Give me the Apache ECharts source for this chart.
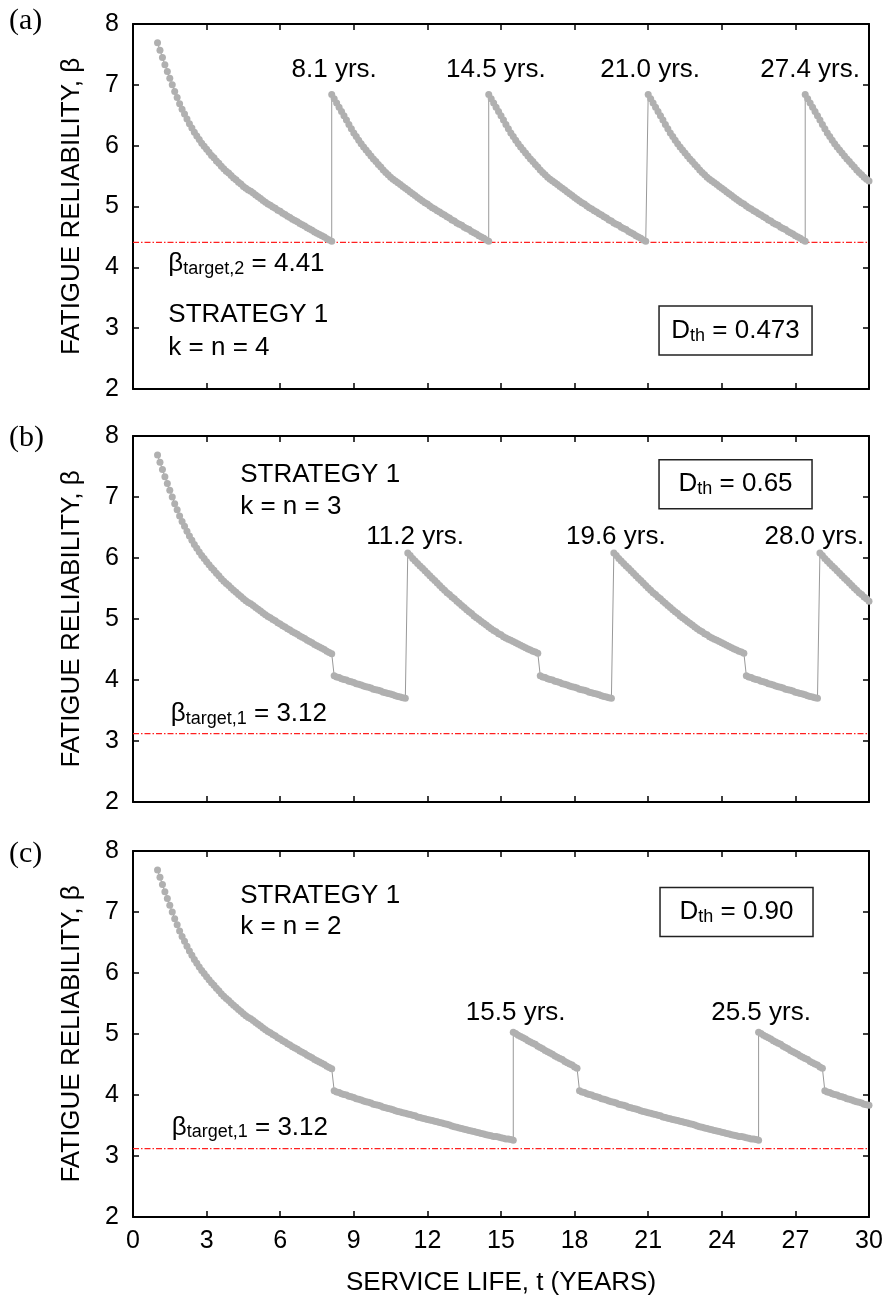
<!DOCTYPE html>
<html><head><meta charset="utf-8">
<script src="https://cdn.jsdelivr.net/npm/echarts@6/dist/echarts.min.js"></script>
<style>html,body{margin:0;padding:0;background:#fff}#c{width:888px;height:1301px}</style>
</head><body><div id="c"></div>
<script>
// ---------------- DATA ----------------
const sampleStep = 0.1; // years between computed reliability points
// initial deterioration, t = 1.0 ... 8.1
const baseDecay = [7.69,7.57,7.45,7.33,7.22,7.11,7.00,6.89,6.79,6.69,
  6.60,6.52,6.44,6.36,6.29,6.22,6.16,6.10,6.04,5.99,
  5.94,5.89,5.84,5.80,5.75,5.71,5.66,5.62,5.58,5.55,
  5.51,5.47,5.44,5.40,5.37,5.33,5.30,5.27,5.25,5.22,
  5.19,5.16,5.13,5.10,5.07,5.04,5.02,4.99,4.97,4.94,
  4.92,4.89,4.87,4.84,4.82,4.79,4.77,4.75,4.72,4.70,
  4.68,4.65,4.63,4.61,4.58,4.56,4.54,4.52,4.50,4.47,
  4.45,4.43];
// after repair, panel (a): 0 ... 6.4 yrs after repair
const repairA = [6.84,6.77,6.70,6.63,6.56,6.49,6.42,6.35,6.28,6.21,
  6.15,6.09,6.03,5.98,5.93,5.88,5.83,5.78,5.74,5.69,
  5.65,5.60,5.56,5.52,5.48,5.45,5.42,5.39,5.36,5.33,
  5.30,5.27,5.24,5.21,5.18,5.15,5.12,5.09,5.06,5.04,
  5.01,4.98,4.96,4.93,4.91,4.88,4.86,4.83,4.81,4.78,
  4.76,4.73,4.71,4.69,4.66,4.64,4.62,4.59,4.57,4.55,
  4.52,4.50,4.48,4.45,4.43];
// after repair, panel (b): 0 ... 5.3 yrs after repair
const repairB = [6.08,6.04,5.99,5.95,5.91,5.87,5.83,5.79,5.75,5.71,
  5.67,5.63,5.59,5.55,5.51,5.47,5.43,5.40,5.36,5.33,
  5.29,5.26,5.22,5.19,5.15,5.12,5.09,5.05,5.02,4.99,
  4.96,4.93,4.90,4.87,4.84,4.81,4.79,4.76,4.74,4.71,
  4.69,4.67,4.65,4.63,4.61,4.59,4.57,4.55,4.53,4.51,
  4.49,4.47,4.46,4.44];
// after repair, panel (c): 0 ... 2.6 yrs after repair
const repairC = [5.03,5.01,4.98,4.96,4.94,4.92,4.89,4.87,4.85,4.83,
  4.80,4.78,4.76,4.73,4.71,4.69,4.67,4.64,4.62,4.60,
  4.58,4.55,4.53,4.51,4.49,4.46,4.44];
// after detection-triggered drop, panel (b): 0 ... 2.9 yrs
const minorB = [4.07,4.05,4.04,4.02,4.01,4.00,3.98,3.97,3.96,3.94,
  3.93,3.92,3.90,3.89,3.88,3.87,3.85,3.84,3.83,3.82,
  3.80,3.79,3.78,3.77,3.76,3.74,3.73,3.72,3.71,3.70];
// after detection-triggered drop, panel (c): 0 ... 7.3 yrs
const minorC = [4.07,4.05,4.04,4.02,4.01,4.00,3.98,3.97,3.96,3.94,
  3.93,3.92,3.90,3.89,3.88,3.87,3.85,3.84,3.83,3.82,
  3.80,3.79,3.78,3.77,3.76,3.74,3.73,3.72,3.71,3.70,
  3.69,3.68,3.67,3.66,3.64,3.63,3.62,3.61,3.60,3.59,
  3.58,3.57,3.56,3.55,3.54,3.53,3.52,3.51,3.49,3.48,
  3.47,3.46,3.45,3.44,3.43,3.42,3.41,3.40,3.39,3.38,
  3.37,3.36,3.35,3.34,3.33,3.32,3.32,3.31,3.30,3.29,
  3.28,3.28,3.27,3.26];
// segment schedules: [start year, segment values, number of points used]
const scheduleA = [[1.0, baseDecay, 72], [8.1, repairA, 65], [14.5, repairA, 65], [21.0, repairA, 65], [27.4, repairA, 27]];
const scheduleB = [[1.0, baseDecay, 72], [8.2, minorB, 30], [11.2, repairB, 54], [16.6, minorB, 30], [19.6, repairB, 54], [25.0, minorB, 30], [28.0, repairB, 21]];
const scheduleC = [[1.0, baseDecay, 72], [8.2, minorC, 74], [15.5, repairC, 27], [18.2, minorC, 74], [25.5, repairC, 27], [28.2, minorC, 19]];
const targets = [4.41, 3.12, 3.12];
const targetSubs = ['target,2', 'target,1', 'target,1'];
const kValues = ['k = n = 4', 'k = n = 3', 'k = n = 2'];
const dthValues = ['0.473', '0.65', '0.90'];
const repairLabelsA = ['8.1 yrs.', '14.5 yrs.', '21.0 yrs.', '27.4 yrs.'];
const repairLabelsB = ['11.2 yrs.', '19.6 yrs.', '28.0 yrs.'];
const repairLabelsC = ['15.5 yrs.', '25.5 yrs.'];
const xTicks = [0, 3, 6, 9, 12, 15, 18, 21, 24, 27, 30];
const yTicks = [2, 3, 4, 5, 6, 7, 8];
const panelTags = ['(a)', '(b)', '(c)'];

// ---------------- LAYOUT ----------------
const FONT = "'Liberation Sans', Arial, sans-serif";
const SERIF = "'Liberation Serif', 'Times New Roman', serif";
const grids = [
  {left: 133, top: 24, width: 736, height: 365},
  {left: 133, top: 436, width: 736, height: 366},
  {left: 133, top: 851, width: 736, height: 366}
];

function buildPanel(schedule) {
  const pts = [];
  schedule.forEach(([t0, vals, n]) => {
    for (let i = 0; i < n; i++) {
      pts.push([Math.round((t0 + i * sampleStep) * 100) / 100, vals[i]]);
    }
  });
  return pts;
}

const xAxes = [], yAxes = [];
grids.forEach((g, i) => {
  const common = {
    type: 'value', gridIndex: i,
    axisLine: {show: true, onZero: false, lineStyle: {color: '#000', width: 2}},
    axisTick: {show: true, inside: true, length: 6, lineStyle: {color: '#000', width: 1.5}},
    splitLine: {show: false}
  };
  xAxes.push(Object.assign({}, common, {
    position: 'bottom', min: xTicks[0], max: xTicks[xTicks.length - 1], interval: xTicks[1] - xTicks[0],
    axisLabel: {show: i === 2, fontSize: 25, color: '#000', fontFamily: FONT, margin: 12},
    name: i === 2 ? 'SERVICE LIFE, t (YEARS)' : '', nameLocation: 'middle', nameGap: 53,
    nameTextStyle: {fontSize: 26, color: '#000', fontFamily: FONT}
  }));
  xAxes.push(Object.assign({}, common, {
    position: 'top', min: xTicks[0], max: xTicks[xTicks.length - 1], interval: xTicks[1] - xTicks[0],
    axisLabel: {show: false}
  }));
  yAxes.push(Object.assign({}, common, {
    position: 'left', min: yTicks[0], max: yTicks[yTicks.length - 1], interval: yTicks[1] - yTicks[0],
    axisLabel: {show: true, fontSize: 25, color: '#000', fontFamily: FONT, margin: 14},
    name: 'FATIGUE RELIABILITY, β', nameLocation: 'middle', nameGap: 48,
    nameTextStyle: {fontSize: 26, color: '#000', fontFamily: FONT}
  }));
  yAxes.push(Object.assign({}, common, {
    position: 'right', min: yTicks[0], max: yTicks[yTicks.length - 1], interval: yTicks[1] - yTicks[0],
    axisLabel: {show: false}
  }));
});

const schedules = [scheduleA, scheduleB, scheduleC];
const series = [];
schedules.forEach((s, i) => {
  // target reliability threshold (dash-dot red)
  series.push({
    type: 'line', xAxisIndex: 2 * i, yAxisIndex: 2 * i,
    data: [[xTicks[0], targets[i]], [xTicks[xTicks.length - 1], targets[i]]],
    symbol: 'none', silent: true, z: 2,
    lineStyle: {color: '#ff2020', width: 1.2, type: [6, 2, 1.5, 2]},
    emphasis: {disabled: true}
  });
  series.push({
    type: 'line', xAxisIndex: 2 * i, yAxisIndex: 2 * i,
    data: buildPanel(s),
    symbol: 'circle', symbolSize: 7, showSymbol: true, showAllSymbol: true,
    itemStyle: {color: '#b0b0b0', borderWidth: 0},
    lineStyle: {color: '#999999', width: 1},
    emphasis: {disabled: true},
    silent: true, z: 3
  });
});

const chart = echarts.init(document.getElementById('c'), null, {renderer: 'canvas'});
chart.setOption({animation: false, backgroundColor: '#fff', grid: grids, xAxis: xAxes, yAxis: yAxes, series: series});

// ---------------- ANNOTATIONS ----------------
const ctx = document.createElement('canvas').getContext('2d');
function tw(s, size) { ctx.font = size + "px 'Liberation Sans'"; return ctx.measureText(s).width; }
function px(i, t, b) { return chart.convertToPixel({seriesIndex: 2 * i + 1}, [t, b]); }
function txt(s, x, y, size, align, family) {
  return {type: 'text', silent: true, z: 10, style: {text: s, x: x, y: y, fontSize: size, fontFamily: family || FONT, fill: '#000',
    textAlign: align || 'left', textVerticalAlign: 'middle', align: align || 'left', verticalAlign: 'middle'}};
}
// composite text with subscript: parts = [main, sub, rest]
function subText(x, y, main, sub, rest, centered) {
  const w1 = tw(main, 26), w2 = tw(sub, 18), w3 = tw(rest, 26);
  let x0 = centered ? x - (w1 + w2 + w3) / 2 : x;
  return [txt(main, x0, y, 26), txt(sub, x0 + w1, y + 5, 18), txt(rest, x0 + w1 + w2, y, 26)];
}
const els = [];
const labelPos = [
  [[repairLabelsA[0], 8.2], [repairLabelsA[1], 14.79], [repairLabelsA[2], 21.08], [repairLabelsA[3], 27.6]],
  [[repairLabelsB[0], 11.5], [repairLabelsB[1], 19.68], [repairLabelsB[2], 27.77]],
  [[repairLabelsC[0], 15.6], [repairLabelsC[1], 25.6]]
];
const labelBeta = [7.24, 6.35, 5.35];
const stratPos = [[1.44, 3.22, 2.68], [4.37, 7.36, 6.84], [4.37, 7.27, 6.76]];
const targetPos = [[1.44, 4.06], [1.54, 3.45], [1.58, 3.47]];
const boxPos = [[24.56, 2.96], [24.56, 7.21], [24.6, 7.0]];
const tagY = [21, 438, 854];

for (let i = 0; i < 3; i++) {
  labelPos[i].forEach(([s, t]) => { const p = px(i, t, labelBeta[i]); els.push(txt(s, p[0], p[1], 26, 'center')); });
  let p = px(i, stratPos[i][0], stratPos[i][1]);
  els.push(txt('STRATEGY 1', p[0], p[1], 26));
  p = px(i, stratPos[i][0], stratPos[i][2]);
  els.push(txt(kValues[i], p[0], p[1], 26));
  p = px(i, targetPos[i][0], targetPos[i][1]);
  subText(p[0], p[1], 'β', targetSubs[i], ' = ' + targets[i].toFixed(2), false).forEach(e => els.push(e));
  p = px(i, boxPos[i][0], boxPos[i][1]);
  els.push({type: 'rect', silent: true, z: 9, shape: {x: p[0] - 76.5, y: p[1] - 24.5, width: 153, height: 49},
    style: {fill: '#fff', stroke: '#222', lineWidth: 1.5}});
  subText(p[0], p[1], 'D', 'th', ' = ' + dthValues[i], true).forEach(e => els.push(e));
  els.push(txt(panelTags[i], 9, tagY[i], 30, 'left', SERIF));
}
chart.setOption({graphic: els});
</script>
</body></html>
